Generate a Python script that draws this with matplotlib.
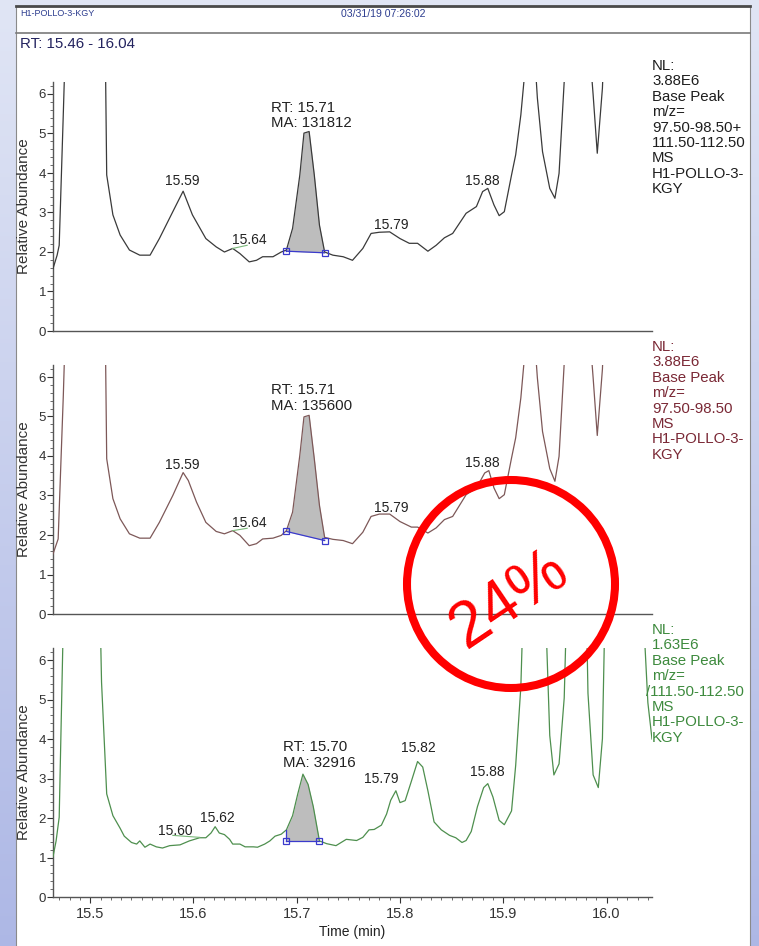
import matplotlib
matplotlib.use("Agg")
import matplotlib.pyplot as plt
from matplotlib.patches import Circle, Rectangle
import numpy as np

plt.rcParams["font.family"] = ["Liberation Sans", "DejaVu Sans"]

XMIN, XMAX = 15.464, 16.044
YMAX = 6.3

# traza 1: m/z 97.50-98.50 + 111.50-112.50 (valores > 6.3 se salen por arriba)
t_top = [15.464, 15.468, 15.470, 15.474, 15.478, 15.495, 15.513, 15.515, 15.516, 15.522,
         15.529, 15.538, 15.548, 15.558, 15.567, 15.580, 15.590, 15.599, 15.612, 15.622,
         15.630, 15.638, 15.645, 15.654, 15.661, 15.667, 15.677, 15.685, 15.690, 15.696,
         15.703, 15.707, 15.712, 15.717, 15.722, 15.727, 15.735, 15.745, 15.754, 15.764,
         15.772, 15.780, 15.790, 15.800, 15.809, 15.817, 15.827, 15.835, 15.843, 15.851,
         15.864, 15.874, 15.880, 15.885, 15.891, 15.896, 15.901, 15.908, 15.912, 15.917,
         15.920, 15.926, 15.932, 15.933, 15.938, 15.945, 15.950, 15.954, 15.959, 15.970,
         15.984, 15.987, 15.991, 15.996, 16.000, 16.020, 16.044]
v_top = [1.58, 1.92, 2.17, 5.52, 9.0, 12.0, 9.0, 6.30, 3.95, 2.94,
         2.43, 2.05, 1.92, 1.92, 2.34, 3.02, 3.54, 2.94, 2.34, 2.13,
         2.00, 2.09, 1.96, 1.75, 1.79, 1.88, 1.88, 2.00, 2.05, 2.60,
         3.95, 5.01, 5.05, 3.95, 2.68, 2.00, 1.92, 1.88, 1.79, 2.09,
         2.47, 2.50, 2.51, 2.34, 2.22, 2.22, 2.02, 2.17, 2.36, 2.47,
         2.98, 3.15, 3.53, 3.61, 3.19, 2.92, 3.02, 3.95, 4.46, 5.47,
         6.32, 9.0, 6.32, 5.90, 4.54, 3.61, 3.36, 3.99, 6.32, 12.0,
         7.0, 5.98, 4.50, 6.15, 9.0, 12.0, 12.0]

# traza 2: m/z 97.50-98.50
t_mid = [15.464, 15.469, 15.474, 15.478, 15.495, 15.513, 15.515, 15.516, 15.522, 15.529,
         15.538, 15.548, 15.558, 15.567, 15.580, 15.590, 15.595, 15.603, 15.612, 15.622,
         15.630, 15.638, 15.645, 15.654, 15.661, 15.667, 15.677, 15.685, 15.690, 15.696,
         15.703, 15.707, 15.712, 15.717, 15.722, 15.727, 15.735, 15.745, 15.754, 15.764,
         15.772, 15.780, 15.790, 15.800, 15.811, 15.817, 15.827, 15.835, 15.843, 15.851,
         15.864, 15.874, 15.882, 15.886, 15.891, 15.896, 15.901, 15.908, 15.912, 15.917,
         15.920, 15.926, 15.932, 15.933, 15.938, 15.945, 15.950, 15.954, 15.959, 15.970,
         15.984, 15.987, 15.991, 15.996, 16.000, 16.020, 16.044]
v_mid = [1.52, 1.90, 5.54, 9.0, 12.0, 9.0, 6.30, 3.93, 2.92, 2.41,
         2.03, 1.92, 1.92, 2.32, 3.00, 3.58, 3.38, 2.83, 2.32, 2.09,
         2.03, 2.11, 1.99, 1.73, 1.78, 1.90, 1.92, 1.99, 2.11, 2.58,
         4.02, 4.99, 5.03, 3.93, 2.75, 1.94, 1.89, 1.86, 1.78, 2.07,
         2.47, 2.53, 2.53, 2.34, 2.20, 2.20, 2.05, 2.18, 2.39, 2.47,
         3.02, 3.19, 3.57, 3.63, 3.19, 2.92, 3.02, 3.95, 4.46, 5.47,
         6.35, 9.0, 6.35, 5.98, 4.62, 3.68, 3.36, 3.99, 6.35, 12.0,
         7.0, 5.98, 4.52, 6.20, 9.0, 12.0, 12.0]

# traza 3: m/z 111.50-112.50
t_bot = [15.464, 15.467, 15.470, 15.474, 15.490, 15.509, 15.511, 15.516, 15.522, 15.529,
         15.533, 15.540, 15.545, 15.548, 15.553, 15.558, 15.564, 15.570, 15.577, 15.587,
         15.596, 15.606, 15.612, 15.617, 15.621, 15.625, 15.630, 15.635, 15.638, 15.645,
         15.650, 15.658, 15.662, 15.669, 15.674, 15.679, 15.685, 15.690, 15.696, 15.701,
         15.706, 15.711, 15.716, 15.722, 15.729, 15.738, 15.748, 15.758, 15.764, 15.770,
         15.775, 15.782, 15.787, 15.791, 15.796, 15.800, 15.805, 15.811, 15.817, 15.822,
         15.827, 15.833, 15.840, 15.848, 15.854, 15.860, 15.864, 15.869, 15.875, 15.881,
         15.885, 15.890, 15.896, 15.901, 15.908, 15.912, 15.917, 15.920, 15.930, 15.940,
         15.945, 15.949, 15.954, 15.959, 15.962, 15.972, 15.980, 15.982, 15.987, 15.992,
         15.996, 15.999, 16.015, 16.034, 16.040, 16.044]
v_bot = [1.02, 1.42, 2.02, 7.0, 12.0, 8.0, 5.44, 2.61, 2.06, 1.74,
         1.54, 1.38, 1.34, 1.42, 1.26, 1.34, 1.27, 1.24, 1.30, 1.32,
         1.42, 1.50, 1.50, 1.62, 1.78, 1.62, 1.58, 1.46, 1.34, 1.34,
         1.27, 1.27, 1.26, 1.34, 1.42, 1.54, 1.59, 1.70, 2.06, 2.61,
         3.11, 2.85, 2.29, 1.42, 1.35, 1.30, 1.46, 1.43, 1.51, 1.70,
         1.71, 1.82, 2.10, 2.45, 2.69, 2.39, 2.44, 2.93, 3.43, 3.29,
         2.69, 1.90, 1.70, 1.56, 1.50, 1.38, 1.43, 1.66, 2.29, 2.77,
         2.87, 2.53, 1.94, 1.83, 2.18, 3.33, 5.32, 8.0, 12.0, 8.0,
         4.09, 3.09, 3.37, 5.04, 8.0, 12.0, 8.0, 5.16, 3.09, 2.77,
         4.01, 8.0, 12.0, 8.0, 4.92, 4.00]

# etiquetas de picos (texto, tiempo, altura)
lab_top = [("15.59", 15.589, 3.81), ("15.64", 15.654, 2.31),
           ("15.79", 15.792, 2.69), ("15.88", 15.880, 3.81)]
lab_mid = [("15.59", 15.589, 3.78), ("15.64", 15.654, 2.31),
           ("15.79", 15.792, 2.69), ("15.88", 15.880, 3.83)]
lab_bot = [("15.60", 15.582, 1.68), ("15.62", 15.623, 2.01), ("15.79", 15.782, 2.98),
           ("15.82", 15.818, 3.77), ("15.88", 15.885, 3.16)]

# pico integrado: (t inicio, base inicio, t fin, base fin)
int_top = (15.690, 2.02, 15.727, 1.98)
int_mid = (15.690, 2.09, 15.727, 1.86)
int_bot = (15.690, 1.42, 15.722, 1.42)

rt_top = ("RT: 15.71\nMA: 131812", 15.675, 5.46)
rt_mid = ("RT: 15.71\nMA: 135600", 15.675, 5.47)
rt_bot = ("RT: 15.70\nMA: 32916", 15.687, 3.60)

# marcas verdes junto a algunas etiquetas
lead_top = [([15.638, 15.652], [2.09, 2.17])]
lead_mid = [([15.638, 15.652], [2.11, 2.17])]
lead_bot = [([15.580, 15.606], [1.56, 1.51])]

info_top = ["NL:", "3.88E6", "Base Peak", "m/z=", "97.50-98.50+", "111.50-112.50",
            "MS", "H1-POLLO-3-", "KGY"]
info_mid = ["NL:", "3.88E6", "Base Peak", "m/z=", "97.50-98.50", "MS", "H1-POLLO-3-", "KGY"]
info_bot = ["NL:", "1.63E6", "Base Peak", "m/z=", "/111.50-112.50", "MS", "H1-POLLO-3-", "KGY"]

# ---------------- figura ----------------
W, H = 759, 946
fig = plt.figure(figsize=(W / 100, H / 100), dpi=100)

# fondo degradado tipo diapositiva
bg = fig.add_axes([0, 0, 1, 1], zorder=-10)
grad = np.linspace(0, 1, 256).reshape(-1, 1)
c0 = np.array([0.88, 0.90, 0.96]); c1 = np.array([0.68, 0.72, 0.90])
img = c0 + grad[..., None] * (c1 - c0)
bg.imshow(img.reshape(256, 1, 3), extent=[0, W, H, 0], aspect="auto")
bg.set_xlim(0, W); bg.set_ylim(H, 0); bg.axis("off")
bg.add_patch(Rectangle((16, 6), 734, 945, facecolor="white", edgecolor="#8a8a8a", lw=0.8))
bg.plot([16, 750], [6.5, 6.5], color="#4a4a4a", lw=2.0)
bg.plot([16, 750], [33, 33], color="#7a7a7a", lw=1.2)

PXU = 39.5


def panel(y0, t, v, col, labels, rt, integ, leads, info, info_col, info_y, last):
    ax = fig.add_axes([53 / W, (H - y0) / H, 599 / W, YMAX * PXU / H])
    ax.plot(t, v, color=col, lw=0.9, zorder=3)

    # area integrada
    t0, b0, t1, b1 = integ
    tt = np.array(t); vv = np.array(v)
    m = (tt > t0) & (tt < t1)
    xs = np.concatenate([[t0], tt[m], [t1]])
    ys = np.interp(xs, tt, vv)
    base = np.interp(xs, [t0, t1], [b0, b1])
    ax.fill_between(xs, base, ys, color="#bdbdbd", lw=0, zorder=2)
    ax.plot([t0, t0], [b0, np.interp(t0, tt, vv)], color="#3a3acc", lw=0.9, zorder=4)
    ax.plot([t0, t1], [b0, b1], color="#3a3acc", lw=0.9, marker="s", ms=4.5,
            mfc="none", mec="#3a3acc", mew=0.9, zorder=4)

    for txt, x, y in labels:
        ax.text(x, y, txt, ha="center", va="center", fontsize=10, color="#222")
    ax.text(rt[1], rt[2], rt[0], ha="left", va="center", fontsize=10.8, color="#222",
            linespacing=1.15)
    for lx, ly in leads:
        ax.plot(lx, ly, color="#7ab87a", lw=0.8, zorder=3)

    ax.set_xlim(XMIN, XMAX)
    ax.set_ylim(0, YMAX)
    ax.spines[["top", "right"]].set_visible(False)
    for s in ("left", "bottom"):
        ax.spines[s].set_color("#555")
        ax.spines[s].set_linewidth(1.0)
    ax.set_yticks(range(0, 7))
    ax.set_yticks(np.arange(0, 6.3, 0.2), minor=True)
    ax.tick_params(axis="y", which="major", length=4, width=0.8, pad=1,
                   labelsize=9.5, colors="#333")
    ax.tick_params(axis="y", which="minor", length=2.2, width=0.6, colors="#555")
    ax.set_ylabel("Relative Abundance", fontsize=11, color="#333")
    ax.yaxis.set_label_coords(-0.036, 0.5)
    ax.patch.set_alpha(0)

    if last:
        ax.set_xticks([15.5, 15.6, 15.7, 15.8, 15.9, 16.0])
        ax.set_xticks(np.arange(15.47, 16.045, 0.01), minor=True)
        ax.tick_params(axis="x", which="major", length=4, width=0.8, pad=3,
                       labelsize=10.5, colors="#333")
        ax.tick_params(axis="x", which="minor", length=2.2, width=0.6, colors="#555")
        ax.set_xlabel("Time (min)", fontsize=10, color="#222", labelpad=3)
    else:
        ax.set_xticks([])

    # bloque de info a la derecha, una linea cada 15.4 px
    for i, line in enumerate(info):
        x = 646 if line.startswith("/") else 652
        fig.text(x / W, 1 - (info_y + i * 15.4) / H, line, ha="left", va="center",
                 fontsize=10.8, color=info_col)
    return ax


panel(331, t_top, v_top, "#3a3a3a", lab_top, rt_top, int_top, lead_top,
      info_top, "#1e1e1e", 66, False)
panel(614, t_mid, v_mid, "#7d5858", lab_mid, rt_mid, int_mid, lead_mid,
      info_mid, "#7a2835", 347, False)
panel(897, t_bot, v_bot, "#4e8f4e", lab_bot, rt_bot, int_bot, lead_bot,
      info_bot, "#3d8a3d", 630, True)

# cabecera
fig.text(20 / W, 1 - 14 / H, "H1-POLLO-3-KGY", fontsize=6.5, color="#2d3d8f", va="center")
fig.text(383 / W, 1 - 14 / H, "03/31/19 07:26:02", fontsize=7.6, color="#2d3d8f",
         va="center", ha="center")
fig.text(20 / W, 1 - 44 / H, "RT: 15.46 - 16.04", fontsize=10.8, color="#23235f", va="center")

# sello rojo
ov = fig.add_axes([0, 0, 1, 1], zorder=20)
ov.set_xlim(0, W); ov.set_ylim(H, 0); ov.axis("off")
ov.add_patch(Circle((511, 584), 104, fill=False, edgecolor="#ff0000", lw=5.8))
ov.text(510, 600, "24%", rotation=34, rotation_mode="anchor", ha="center", va="center",
        fontsize=46, color="#ff0000")

fig.savefig("out.png", dpi=100)
